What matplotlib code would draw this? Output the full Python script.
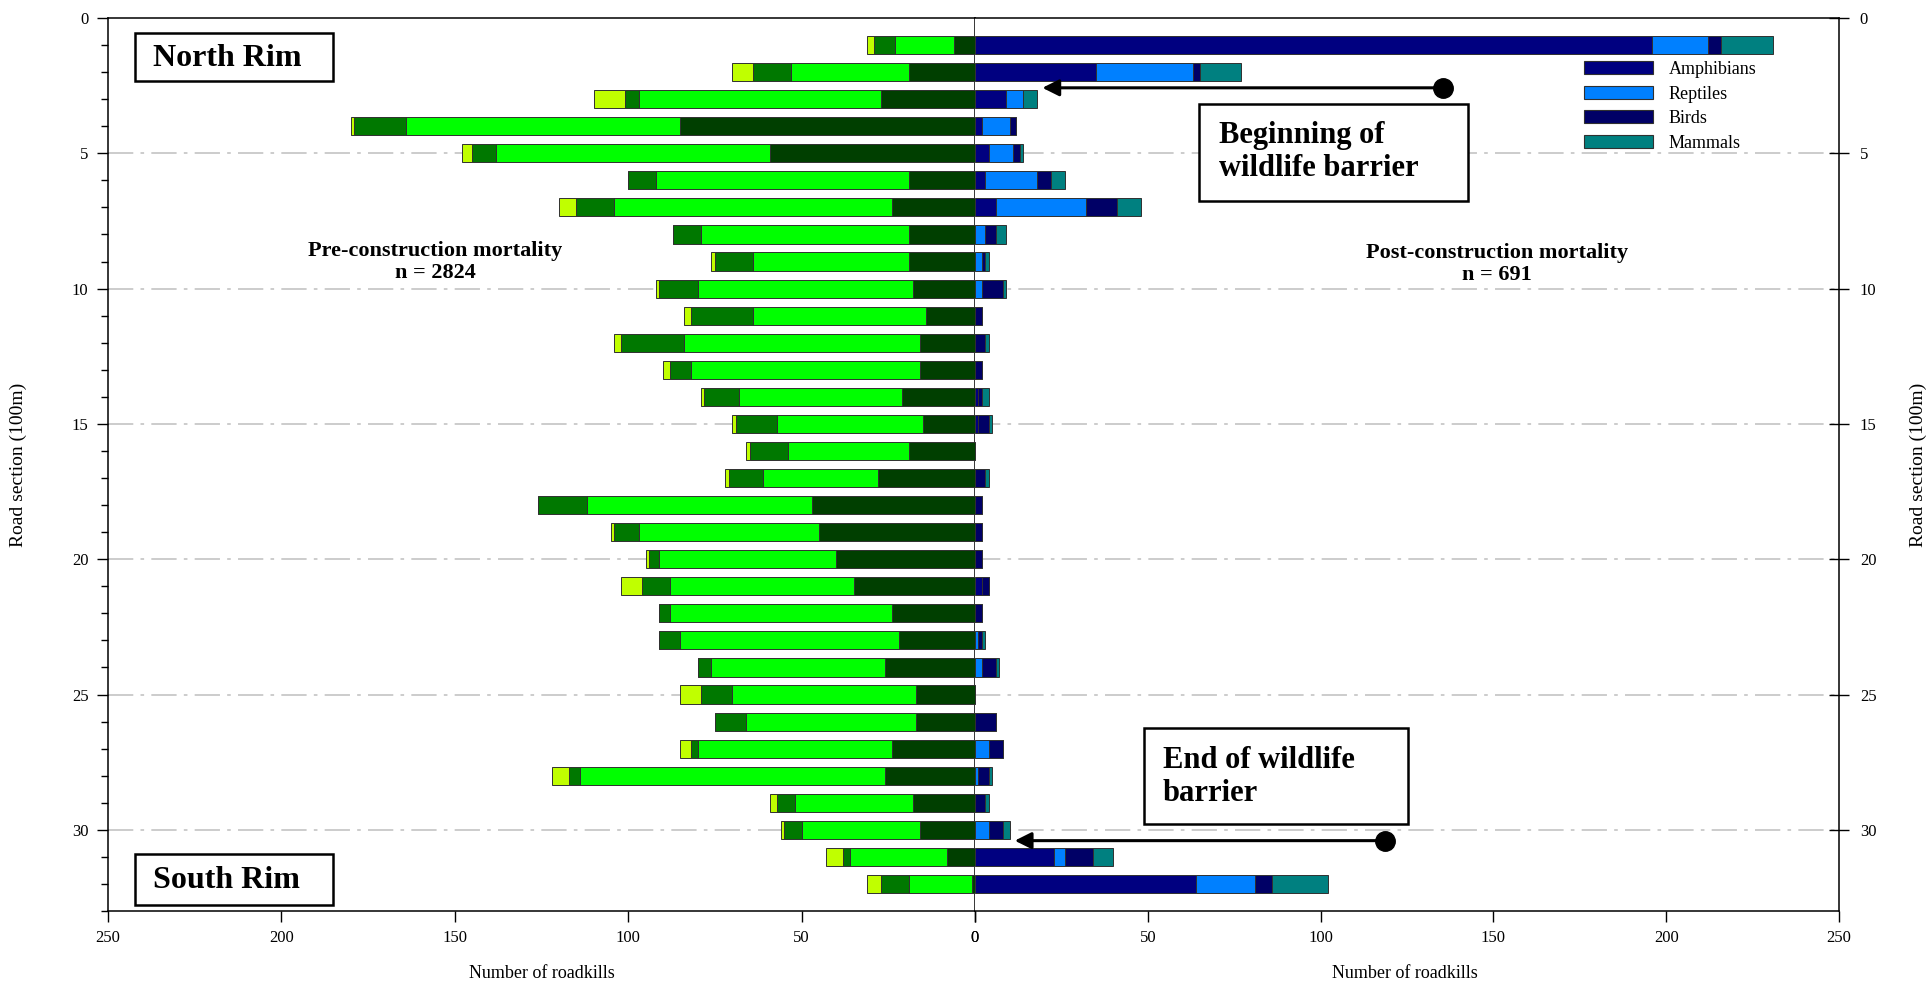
import matplotlib
matplotlib.use("Agg")
import matplotlib.pyplot as plt
from matplotlib.patches import Rectangle, Patch
from matplotlib.ticker import MultipleLocator
import numpy as np

plt.rcParams['font.family'] = ['Liberation Serif', 'DejaVu Serif']

# ---------------- data ----------------
sections = list(range(1, 33))
categories = ["Amphibians", "Reptiles", "Birds", "Mammals"]

pre_amphibians = [6, 19, 27, 85, 59, 19, 24, 19, 19, 18, 14, 16, 16, 21, 15, 19,
                  28, 47, 45, 40, 35, 24, 22, 26, 17, 17, 24, 26, 18, 16, 8, 1]
pre_reptiles = [17, 34, 70, 79, 79, 73, 80, 60, 45, 62, 50, 68, 66, 47, 42, 35,
                33, 65, 52, 51, 53, 64, 63, 50, 53, 49, 56, 88, 34, 34, 28, 18]
pre_birds = [6, 11, 4, 15, 7, 8, 11, 8, 11, 11, 18, 18, 6, 10, 12, 11,
             10, 14, 7, 3, 8, 3, 6, 4, 9, 9, 2, 3, 5, 5, 2, 8]
pre_mammals = [2, 6, 9, 1, 3, 0, 5, 0, 1, 1, 2, 2, 2, 1, 1, 1,
               1, 0, 1, 1, 6, 0, 0, 0, 6, 0, 3, 5, 2, 1, 5, 4]

post_amphibians = [196, 35, 9, 2, 4, 3, 6, 0, 0, 0, 0, 0, 0, 1, 1, 0,
                   0, 0, 0, 0, 2, 0, 0, 0, 0, 0, 0, 0, 0, 0, 23, 64]
post_reptiles = [16, 28, 5, 8, 7, 15, 26, 3, 2, 2, 0, 0, 0, 0, 0, 0,
                 0, 0, 0, 0, 0, 0, 1, 2, 0, 0, 4, 1, 0, 4, 3, 17]
post_birds = [4, 2, 0, 2, 2, 4, 9, 3, 1, 6, 2, 3, 2, 1, 3, 0,
              3, 2, 2, 2, 2, 2, 1, 4, 0, 6, 4, 3, 3, 4, 8, 5]
post_mammals = [15, 12, 4, 0, 1, 4, 7, 3, 1, 1, 0, 1, 0, 2, 1, 0,
                1, 0, 0, 0, 0, 0, 1, 1, 0, 0, 0, 1, 1, 2, 6, 16]

pre_series = [pre_amphibians, pre_reptiles, pre_birds, pre_mammals]
post_series = [post_amphibians, post_reptiles, post_birds, post_mammals]
pre_colors = ["#003f00", "#00ff00", "#007800", "#c0ff00"]
post_colors = ["#000080", "#0080ff", "#000066", "#008080"]

# ---------------- figure ----------------
W, H = 1931, 985
fig = plt.figure(figsize=(W / 100, H / 100), dpi=100)

def fx(px):
    return px / W

def fy(py):
    return 1 - py / H

x_left, x_mid, x_right = 108, 975, 1839
y_top, y_bot = 18, 911
axL = fig.add_axes([fx(x_left), fy(y_bot), fx(x_mid - x_left), (y_bot - y_top) / H])
axR = fig.add_axes([fx(x_mid), fy(y_bot), fx(x_right - x_mid), (y_bot - y_top) / H])

bar_h = 0.67
for ax, series, colors in ((axL, pre_series, pre_colors), (axR, post_series, post_colors)):
    left = np.zeros(len(sections))
    for vals, col, lab in zip(series, colors, categories):
        v = np.array(vals, dtype=float)
        ax.barh(sections, v, left=left, height=bar_h, color=col,
                edgecolor="#303030", linewidth=0.7, label=lab, zorder=3)
        left += v

grid_kw = dict(color="#c8c8c8", linewidth=1.3, linestyle=(0, (14, 4, 2, 4)))
for ax in (axL, axR):
    ax.set_ylim(33, 0)
    ax.set_yticks([0, 5, 10, 15, 20, 25, 30])
    for g in [5, 10, 15, 20, 25, 30]:
        ax.axhline(g, zorder=1, **grid_kw)
    ax.set_xticks([0, 50, 100, 150, 200, 250])
    ax.tick_params(axis="x", direction="out", length=8, width=1, labelsize=12, pad=6)
    for s in ax.spines.values():
        s.set_linewidth(1.1)
        s.set_color("black")

axL.set_xlim(250, 0)
axR.set_xlim(0, 250)

axL.yaxis.set_minor_locator(MultipleLocator(1))
axL.tick_params(axis="y", which="major", direction="out", length=8, width=1,
                labelsize=12, pad=6)
axL.tick_params(axis="y", which="minor", direction="out", length=5, width=1)

axR.yaxis.tick_right()
axR.tick_params(axis="y", which="major", direction="inout", length=14, width=1,
                labelsize=12, pad=8)
axR.spines["left"].set_visible(False)

axL.set_xlabel("Number of roadkills", fontsize=13)
axL.xaxis.set_label_coords(0.5, -0.061)
axR.set_xlabel("Number of roadkills", fontsize=13)
axR.xaxis.set_label_coords(0.497, -0.061)

axL.set_ylabel("Road section (100m)", fontsize=14)
axL.yaxis.set_label_coords(-0.094, 0.5)
axR.yaxis.set_label_position("right")
axR.set_ylabel("Road section (100m)", fontsize=14)
axR.yaxis.set_label_coords((1910 - x_mid) / (x_right - x_mid), 0.5)

# ---------------- annotation boxes ----------------
def box(x0, y0, x1, y1):
    r = Rectangle((fx(x0), fy(y1)), fx(x1 - x0), (y1 - y0) / H, transform=fig.transFigure,
                  facecolor="white", edgecolor="black", linewidth=1.8, zorder=10)
    fig.add_artist(r)

box(135, 33, 333, 81)
fig.text(fx(153), fy(58), "North Rim", fontsize=23, fontweight="bold",
         ha="left", va="center", zorder=11)
box(135, 854, 333, 905)
fig.text(fx(153), fy(880), "South Rim", fontsize=23, fontweight="bold",
         ha="left", va="center", zorder=11)

box(1199, 104, 1468, 201)
fig.text(fx(1219), fy(152), "Beginning of\nwildlife barrier", fontsize=22,
         fontweight="bold", ha="left", va="center", linespacing=1.15, zorder=11)
box(1144, 728, 1408, 824)
fig.text(fx(1163), fy(777), "End of wildlife\nbarrier", fontsize=22,
         fontweight="bold", ha="left", va="center", linespacing=1.15, zorder=11)

fig.text(fx(435), fy(262), "Pre-construction mortality\nn = 2824", fontsize=16,
         fontweight="bold", ha="center", va="center", linespacing=1.1)
fig.text(fx(1497), fy(264), "Post-construction mortality\nn = 691", fontsize=16,
         fontweight="bold", ha="center", va="center", linespacing=1.1)

# arrows
arrow_kw = dict(arrowstyle="-|>,head_length=1.0,head_width=0.5", color="black",
                lw=2.2, shrinkA=0, shrinkB=0)
axR.annotate("", xy=(19.5, 2.58), xytext=(135.5, 2.58), arrowprops=arrow_kw, zorder=6)
axR.plot([135.5], [2.58], marker="o", ms=14, color="black", zorder=7, clip_on=False)
axR.annotate("", xy=(11.5, 30.4), xytext=(118.5, 30.4), arrowprops=arrow_kw, zorder=6)
axR.plot([118.5], [30.4], marker="o", ms=14, color="black", zorder=7, clip_on=False)

# legend
handles = [Patch(facecolor=c, edgecolor="#303030", linewidth=0.8) for c in post_colors]
fig.legend(handles, categories, loc="upper left",
           bbox_to_anchor=(fx(1584), fy(61)), bbox_transform=fig.transFigure,
           frameon=False, fontsize=13, handlelength=3.8, handleheight=0.75,
           handletextpad=0.9, labelspacing=0.42, borderpad=0, borderaxespad=0)

fig.savefig("out.png", dpi=100)
